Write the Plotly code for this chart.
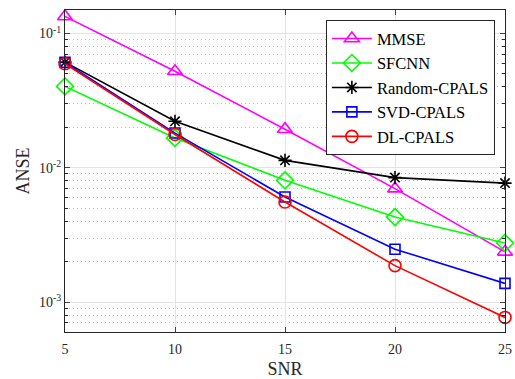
import plotly.graph_objects as go

snr = [5, 10, 15, 20, 25]
mmse = [0.134, 0.0524, 0.0194, 0.0070, 0.00237]
sfcnn = [0.0404, 0.0167, 0.00807, 0.0043, 0.00276]
random_cpals = [0.0612, 0.0222, 0.01137, 0.00846, 0.0077]
svd_cpals = [0.0610, 0.01815, 0.00607, 0.00248, 0.00138]
dl_cpals = [0.0596, 0.0177, 0.00557, 0.00187, 0.00077]

series = [
    ("MMSE", mmse, "#FF00FF", "triangle-up-open", 13),
    ("SFCNN", sfcnn, "#00FF00", "diamond-open", 13),
    ("Random-CPALS", random_cpals, "#000000", "asterisk-open", 11),
    ("SVD-CPALS", svd_cpals, "#0000FF", "square-open", 10),
    ("DL-CPALS", dl_cpals, "#FF0000", "circle-open", 12),
]

y_major = [1e-3, 1e-2, 1e-1]
y_major_text = ["10<sup>-3</sup>", "10<sup>-2</sup>", "10<sup>-1</sup>"]
y_minor = [m * d for d in (1e-4, 1e-3, 1e-2, 1e-1) for m in range(2, 10)]
x_ticks = [5, 10, 15, 20, 25]

font_family = "Liberation Serif"

fig = go.Figure()
for name, vals, color, sym, size in series:
    fig.add_trace(go.Scatter(
        x=snr, y=vals, name=name, mode="lines+markers",
        line=dict(color=color, width=1.6),
        marker=dict(symbol=sym, size=size, color=color, line=dict(color=color, width=1.6)),
        cliponaxis=False,
    ))

fig.update_layout(
    width=515, height=379,
    margin=dict(l=65, r=10, t=10, b=47, autoexpand=False),
    paper_bgcolor="white", plot_bgcolor="white",
    font=dict(family=font_family, size=14, color="#262626"),
    legend=dict(
        x=0.977, y=0.968, xanchor="right", yanchor="top",
        bgcolor="white", bordercolor="#262626", borderwidth=1,
        font=dict(family=font_family, size=16.5, color="#000000"),
        tracegroupgap=0, itemwidth=40,
    ),
    xaxis=dict(
        title=dict(text="SNR", font=dict(family=font_family, size=18), standoff=18),
        range=[5, 25], tickvals=x_ticks, ticks="inside", ticklen=5,
        ticklabelstandoff=4,
        showline=True, linecolor="#262626", linewidth=1, mirror="ticks",
        showgrid=True, gridcolor="#E3E3E3", gridwidth=1, zeroline=False,
        tickfont=dict(family=font_family, size=14), automargin=False,
        ticklabeloverflow="allow",
    ),
    yaxis=dict(
        title=dict(text="ANSE", font=dict(family=font_family, size=18), standoff=4),
        type="log", range=[-3.222, -0.825],
        tickvals=y_major, ticktext=y_major_text, ticks="inside", ticklen=5,
        showline=True, linecolor="#262626", linewidth=1, mirror="ticks",
        showgrid=True, gridcolor="#E3E3E3", gridwidth=1, zeroline=False,
        tickfont=dict(family=font_family, size=14), automargin=False,
        minor=dict(tickvals=y_minor, ticks="inside", ticklen=3, tickcolor="#262626",
                   showgrid=True, gridcolor="#BBBBBB", griddash="1px,3px", gridwidth=1),
    ),
)

fig.write_html(
    "out.html",
    config={"displayModeBar": False},
    post_script="document.body.style.margin='0';document.body.style.overflow='hidden';",
)
